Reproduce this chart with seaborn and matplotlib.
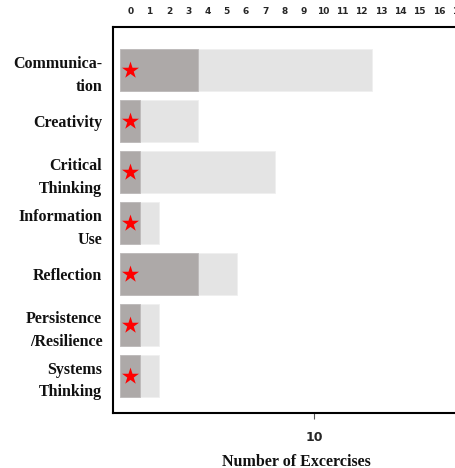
import numpy as np
import pandas as pd
import seaborn as sns
import matplotlib.pyplot as plt

sns.set_theme(style="white")

# data
skills = ["Communica-\ntion", "Creativity", "Critical\nThinking", "Information\nUse",
          "Reflection", "Persistence\n/Resilience", "Systems\nThinking"]
total_exercises = [13, 4, 8, 2, 6, 2, 2]
core_exercises = [4, 1, 1, 1, 4, 1, 1]
starred = [True, True, True, True, True, True, True]
top_ticks = list(range(0, 18))

df = pd.DataFrame({"skill": skills, "total": total_exercises,
                   "core": core_exercises, "star": starred})

W, H = 456, 468
fig = plt.figure(figsize=(W / 100, H / 100), dpi=100)
left, right, top, bottom = 112.7, 480, 27, 413
ax = fig.add_axes([left / W, 1 - bottom / H, (right - left) / W, (bottom - top) / H])

sns.barplot(data=df, y="skill", x="total", color="#E4E4E4", width=0.82,
            orient="h", ax=ax, saturation=1, edgecolor="#EFEFEF", linewidth=0.6)
sns.barplot(data=df, y="skill", x="core", color="#ADA9A8", width=0.82,
            orient="h", ax=ax, saturation=1, edgecolor="#BDBABA", linewidth=0.6)

star_rows = df[df["star"]]
ax.scatter(np.full(len(star_rows), 0.5), star_rows.index, marker="*", s=165,
           color="#FF0000", linewidths=0, zorder=5)

px = 19.4
ax.set_xlim((left - 120.3) / px, (right - 120.3) / px)
ax.set_ylim(6.73, -0.85)

ax.set_xticks([10])
ax.set_xticklabels(["10"], fontsize=9, fontweight="bold", family="DejaVu Sans")
ax.tick_params(axis="x", bottom=True, length=4, width=0.8, color="#555555",
               pad=9, direction="out")
ax.set_yticks(range(len(skills)))
ax.set_yticklabels(skills, family="Liberation Serif", fontweight="bold",
                   fontsize=11.5, linespacing=1.55, color="#111111")
ax.tick_params(axis="y", left=False, length=0, pad=7.5)
ax.set_ylabel("")
ax.set_xlabel("Number of Excercises", fontsize=11.5, fontweight="bold",
              family="Liberation Serif", labelpad=7, color="#111111")

for side in ["left", "bottom", "top", "right"]:
    ax.spines[side].set_visible(True)
    ax.spines[side].set_color("black")
    ax.spines[side].set_linewidth(1.5)

# numbers strip along the top
ax_top = ax.twiny()
px_top = 19.29
ax_top.set_xlim((left - 130.3) / px_top, (right - 130.3) / px_top)
ax_top.set_xticks(top_ticks)
ax_top.set_xticklabels([str(t) for t in top_ticks], fontsize=6.5,
                       fontweight="bold", family="DejaVu Sans")
ax_top.tick_params(axis="x", top=True, length=0, pad=8)
for side in ["left", "bottom", "top", "right"]:
    ax_top.spines[side].set_visible(False)

fig.savefig("out.png", dpi=100)
